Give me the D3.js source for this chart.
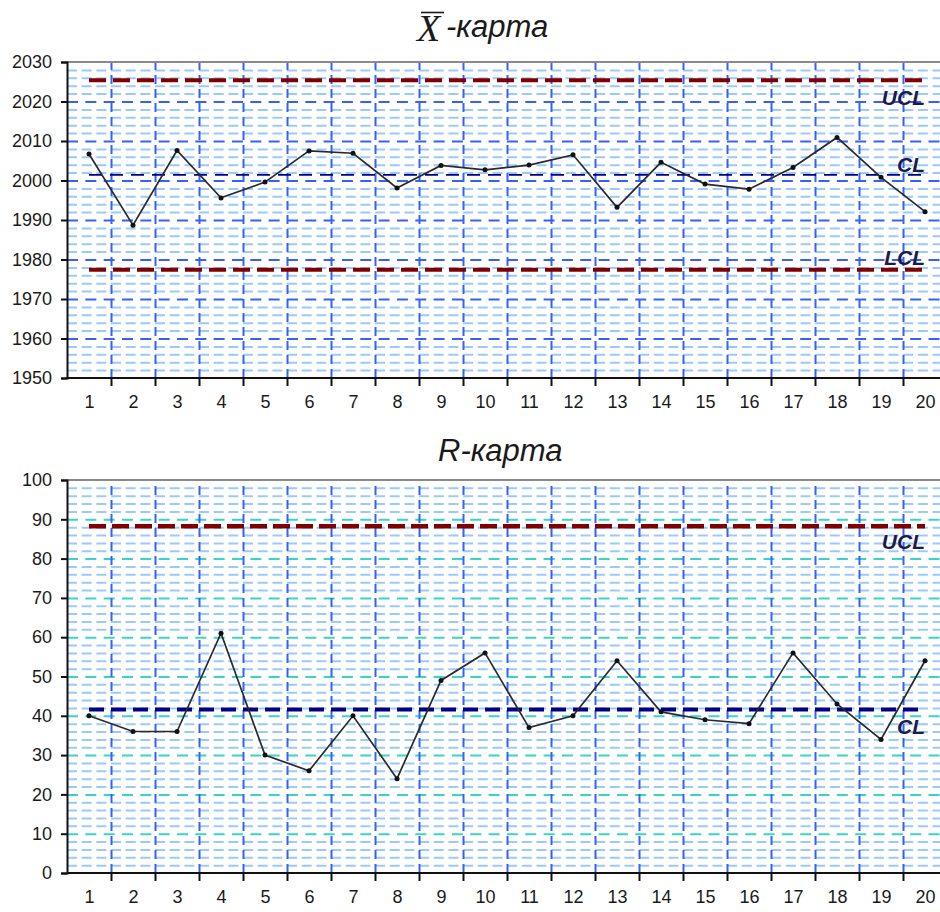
<!DOCTYPE html>
<html>
<head>
<meta charset="utf-8">
<script src="https://cdn.jsdelivr.net/npm/d3@7"></script>
<style>
  body { margin: 0; background: #fff; }
  svg { display: block; }
  .tick text { font-family: "Liberation Sans", Arial, sans-serif; font-size: 18px; fill: #1a1a1a; }
</style>
</head>
<body>
<div id="chart"></div>
<script>
// sample numbers
var samples = [1, 2, 3, 4, 5, 6, 7, 8, 9, 10, 11, 12, 13, 14, 15, 16, 17, 18, 19, 20];

// X-bar values
var xbarValues = [2006.7, 1988.7, 2007.6, 1995.6, 1999.6, 2007.5, 2006.9, 1998.1, 2003.8, 2002.7,
                  2003.9, 2006.5, 1993.2, 2004.6, 1999.1, 1997.8, 2003.3, 2010.9, 2000.8, 1992.1];
// ranges
var rValues = [40, 36, 36, 61, 30, 26, 40, 24, 49, 56, 37, 40, 54, 41, 39, 38, 56, 43, 34, 54];

var xbarLimitNames = ["UCL", "CL", "LCL"];
var xbarLimitValues = [2025.4, 2001.4, 1977.4];
var rLimitNames = ["UCL", "CL"];
var rLimitValues = [88.2, 41.6];

var xbarTicks = [1950, 1960, 1970, 1980, 1990, 2000, 2010, 2020, 2030];
var rTicks = [0, 10, 20, 30, 40, 50, 60, 70, 80, 90, 100];

var width = 940, height = 912;
var left = 67, right = 947;

var svg = d3.select("#chart").append("svg")
    .attr("width", width)
    .attr("height", height);

var x = d3.scaleLinear()
    .domain([0.5, 20.5])
    .range([left, right]);

var boundaries = samples.map(function (d) { return d + 0.5; });

function drawChart(cfg) {
    var y = d3.scaleLinear().domain(cfg.domain).range([cfg.bottom, cfg.top]);
    var g = svg.append("g");
    var w = right - left;

    // minor horizontal grid, every 2 units
    var minor = [];
    for (var v = cfg.domain[0]; v <= cfg.domain[1]; v += 2) {
        if ((v - cfg.domain[0]) % 10 !== 0) minor.push(v);
    }
    g.append("g")
        .attr("transform", "translate(" + left + ",0)")
        .call(d3.axisLeft(y).tickValues(minor).tickSize(-w).tickFormat(""))
        .call(function (s) { s.select(".domain").remove(); })
        .selectAll("line")
        .attr("stroke", "#99c9ff")
        .attr("stroke-width", 2)
        .attr("stroke-dasharray", "10,4.67");

    // major horizontal grid
    g.append("g")
        .attr("transform", "translate(" + left + ",0)")
        .call(d3.axisLeft(y).tickValues(cfg.ticks.slice(1, -1)).tickSize(-w).tickFormat(""))
        .call(function (s) { s.select(".domain").remove(); })
        .selectAll("line")
        .attr("stroke", cfg.majorColor)
        .attr("stroke-width", 2)
        .attr("stroke-dasharray", "11,7.33");

    // vertical grid at sample boundaries
    g.append("g")
        .attr("transform", "translate(0," + cfg.bottom + ")")
        .call(d3.axisBottom(x).tickValues(boundaries.slice(0, -1))
            .tickSize(-(cfg.bottom - cfg.top)).tickFormat(""))
        .call(function (s) { s.select(".domain").remove(); })
        .selectAll("line")
        .attr("stroke", "#3560ff")
        .attr("stroke-width", 2)
        .attr("stroke-dasharray", "9,5");

    // top border
    g.append("line")
        .attr("x1", left).attr("x2", right)
        .attr("y1", cfg.top).attr("y2", cfg.top)
        .attr("stroke", "#8a8a8a").attr("stroke-width", 2);

    // control limits
    cfg.limitNames.forEach(function (name, i) {
        var st = cfg.limitStyle[i];
        g.append("line")
            .attr("x1", x(samples[0])).attr("x2", x(samples[samples.length - 1]))
            .attr("y1", y(cfg.limitValues[i])).attr("y2", y(cfg.limitValues[i]))
            .attr("stroke", st.color)
            .attr("stroke-width", st.w)
            .attr("stroke-dasharray", st.dash);
        g.append("text")
            .attr("x", 925)
            .attr("y", y(cfg.limitValues[i]) + st.dy)
            .attr("text-anchor", "end")
            .attr("font-family", "Liberation Sans, Arial, sans-serif")
            .attr("font-style", "italic")
            .attr("font-weight", "bold")
            .attr("font-size", 21)
            .attr("fill", "#1c1c4c")
            .text(name);
    });

    // data line
    var line = d3.line()
        .x(function (d, i) { return x(samples[i]); })
        .y(function (d) { return y(d); });
    g.append("path")
        .datum(cfg.values)
        .attr("d", line)
        .attr("fill", "none")
        .attr("stroke", "#2a2a2a")
        .attr("stroke-width", 1.7);
    g.selectAll(".pt")
        .data(cfg.values)
        .enter()
        .append("circle")
        .attr("cx", function (d, i) { return x(samples[i]); })
        .attr("cy", function (d) { return y(d); })
        .attr("r", 2.5)
        .attr("fill", "#111");

    // y axis
    var ya = g.append("g")
        .attr("transform", "translate(" + left + ",0)")
        .call(d3.axisLeft(y).tickValues(cfg.ticks).tickSize(6).tickPadding(9).tickFormat(d3.format("d")));
    ya.selectAll("line, .domain").attr("stroke", "#111").attr("stroke-width", 2);

    // x axis: ticks at boundaries
    var xa = g.append("g")
        .attr("transform", "translate(0," + cfg.bottom + ")")
        .call(d3.axisBottom(x).tickValues(boundaries).tickSize(8).tickFormat("").tickSizeOuter(0));
    xa.selectAll("line, .domain").attr("stroke", "#111").attr("stroke-width", 2);
    xa.select(".domain").attr("d", "M" + left + ",0H" + right);

    // x labels at centers
    g.append("g")
        .attr("transform", "translate(0," + cfg.bottom + ")")
        .call(d3.axisBottom(x).tickValues(samples).tickSize(0).tickPadding(17))
        .call(function (s) { s.select(".domain").remove(); });
}

drawChart({
    domain: [1950, 2030], top: 62, bottom: 378,
    ticks: xbarTicks, values: xbarValues,
    majorColor: "#3560ff",
    limitNames: xbarLimitNames, limitValues: xbarLimitValues,
    limitStyle: [
        { color: "#800000", w: 4, dash: "17,7", dy: 25 },
        { color: "#000080", w: 1.8, dash: "13,8", dy: -3 },
        { color: "#800000", w: 4, dash: "17,7", dy: -5 }
    ]
});

drawChart({
    domain: [0, 100], top: 480, bottom: 873,
    ticks: rTicks, values: rValues,
    majorColor: "#38d4c6",
    limitNames: rLimitNames, limitValues: rLimitValues,
    limitStyle: [
        { color: "#800000", w: 4.5, dash: "17,6", dy: 23 },
        { color: "#000080", w: 4, dash: "15,7", dy: 24 }
    ]
});

// titles
var t1 = svg.append("text")
    .attr("x", 417).attr("y", 41)
    .attr("font-family", "Liberation Serif, Times New Roman, serif")
    .attr("font-style", "italic")
    .attr("font-size", 38)
    .attr("fill", "#1a1a1a")
    .text("X");
var bb = t1.node().getBBox();
svg.append("line")
    .attr("x1", bb.x + 6).attr("x2", bb.x + bb.width + 2)
    .attr("y1", 12.5).attr("y2", 12.5)
    .attr("stroke", "#1a1a1a").attr("stroke-width", 1.6);
svg.append("text")
    .attr("x", 446).attr("y", 37)
    .attr("font-family", "Liberation Sans, Arial, sans-serif")
    .attr("font-style", "italic")
    .attr("font-size", 31)
    .attr("fill", "#1a1a1a")
    .text("-карта");

svg.append("text")
    .attr("x", 438).attr("y", 461)
    .attr("font-family", "Liberation Sans, Arial, sans-serif")
    .attr("font-style", "italic")
    .attr("font-size", 31)
    .attr("fill", "#1a1a1a")
    .text("R-карта");
</script>
</body>
</html>
